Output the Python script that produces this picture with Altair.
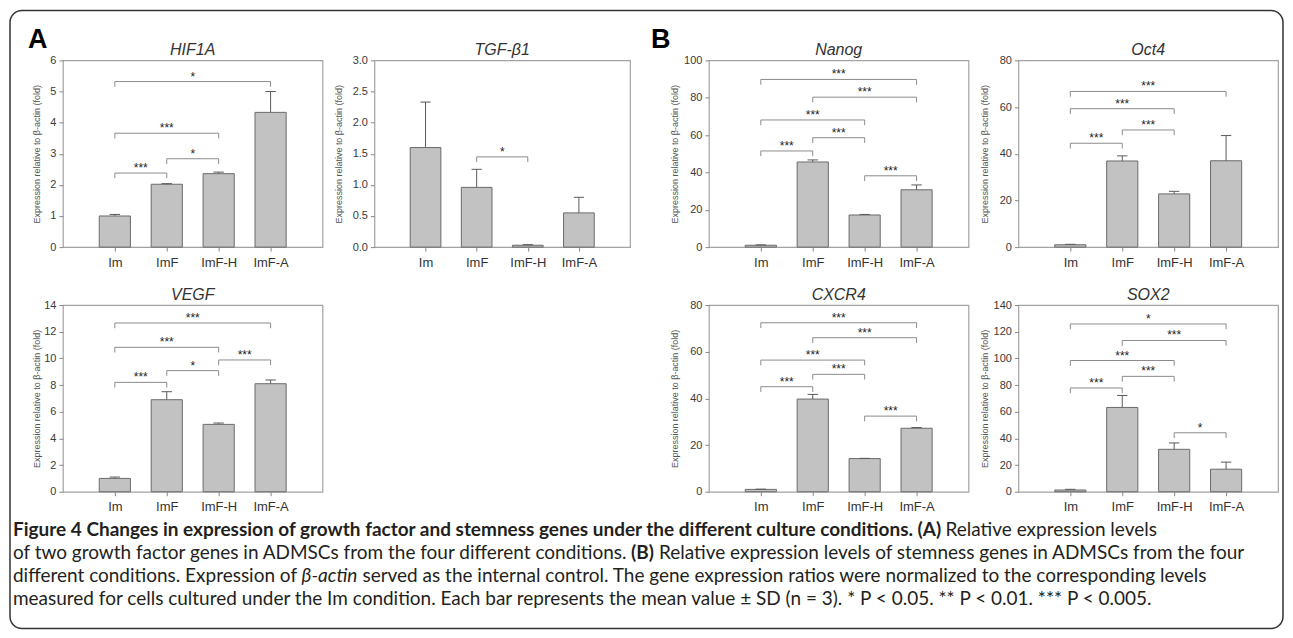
import altair as alt
import pandas as pd

FONT = "Liberation Sans"
CAP_FONT = "Lato"

conditions = ["Im", "ImF", "ImF-H", "ImF-A"]
positions = [1, 2, 3, 4]

# ---- Panel A ----
hif1a_mean = [1.0, 2.02, 2.36, 4.33]
hif1a_sd = [0.05, 0.02, 0.05, 0.67]
hif1a_ticks = [0, 1, 2, 3, 4, 5, 6]
hif1a_brackets = [("Im", "ImF-A", 5.32, "*"), ("Im", "ImF-H", 3.66, "***"),
                  ("ImF", "ImF-H", 2.84, "*"), ("Im", "ImF", 2.38, "***")]

tgf_mean = [1.6, 0.96, 0.03, 0.55]
tgf_sd = [0.73, 0.29, 0.01, 0.25]
tgf_ticks = [0, 0.5, 1.0, 1.5, 2.0, 2.5, 3.0]
tgf_brackets = [("ImF", "ImF-H", 1.45, "*")]

vegf_mean = [1.0, 6.9, 5.05, 8.1]
vegf_sd = [0.1, 0.6, 0.1, 0.28]
vegf_ticks = [0, 2, 4, 6, 8, 10, 12, 14]
vegf_brackets = [("Im", "ImF-A", 12.65, "***"), ("Im", "ImF-H", 10.83, "***"),
                 ("ImF-H", "ImF-A", 9.88, "***"), ("ImF", "ImF-H", 9.08, "*"),
                 ("Im", "ImF", 8.2, "***")]

# ---- Panel B ----
nanog_mean = [1.0, 45.6, 17.2, 30.7]
nanog_sd = [0.2, 1.1, 0.3, 2.6]
nanog_ticks = [0, 20, 40, 60, 80, 100]
nanog_brackets = [("Im", "ImF-A", 89.8, "***"), ("ImF", "ImF-A", 80.3, "***"),
                  ("Im", "ImF-H", 68.1, "***"), ("ImF", "ImF-H", 58.6, "***"),
                  ("Im", "ImF", 51.5, "***"), ("ImF-H", "ImF-A", 38.2, "***")]

oct4_mean = [1.0, 36.9, 22.8, 37.0]
oct4_sd = [0.2, 2.2, 1.1, 10.8]
oct4_ticks = [0, 20, 40, 60, 80]
oct4_brackets = [("Im", "ImF-A", 66.7, "***"), ("Im", "ImF-H", 59.3, "***"),
                 ("ImF", "ImF-H", 50.2, "***"), ("Im", "ImF", 44.5, "***")]

cxcr4_mean = [1.0, 39.7, 14.2, 27.2]
cxcr4_sd = [0.1, 2.0, 0.1, 0.3]
cxcr4_ticks = [0, 20, 40, 60, 80]
cxcr4_brackets = [("Im", "ImF-A", 72.4, "***"), ("ImF", "ImF-A", 66.0, "***"),
                  ("Im", "ImF-H", 56.4, "***"), ("ImF", "ImF-H", 50.3, "***"),
                  ("Im", "ImF", 45.0, "***"), ("ImF-H", "ImF-A", 32.4, "***")]

sox2_mean = [1.3, 63.2, 31.8, 16.9]
sox2_sd = [0.5, 9.0, 4.8, 5.3]
sox2_ticks = [0, 20, 40, 60, 80, 100, 120, 140]
sox2_brackets = [("Im", "ImF-A", 125.8, "*"), ("ImF", "ImF-A", 113.4, "***"),
                 ("Im", "ImF-H", 98.4, "***"), ("ImF", "ImF-H", 86.5, "***"),
                 ("Im", "ImF", 77.8, "***"), ("ImF-H", "ImF-A", 44.2, "*")]

y_title = "Expression relative to β-actin (fold)"

# caption segments: (line y, x, style, text)  -- page pixel positions
caption_segments = [
    (529, 12, "bold", "Figure 4 Changes in expression of growth factor and stemness genes under the different culture conditions. (A)"),
    (529, 946, "normal", "Relative expression levels"),
    (552, 12, "normal", "of two growth factor genes in ADMSCs from the four different conditions."),
    (552, 631, "bold", "(B)"),
    (552, 659, "normal", "Relative expression levels of stemness genes in ADMSCs from the four"),
    (575, 12, "normal", "different conditions. Expression of"),
    (575, 301, "italic", "β-actin"),
    (575, 362, "normal", "served as the internal control. The gene expression ratios were normalized to the corresponding levels"),
    (598, 12, "normal", "measured for cells cultured under the Im condition. Each bar represents the mean value ± SD (n = 3). * P < 0.05. ** P < 0.01. *** P < 0.005."),
]

PLOT_H = 187
ORIGIN = (62, 59)  # page position of the first plot area (caption coordinates are relative to it)


def make_panel(title, means, sds, yticks, fmt, brackets, width, ext, tpad,
               cell, letter=None, letter_x=0):
    L, R, T, B = cell
    ymax = yticks[-1]
    pos_of = dict(zip(conditions, positions))
    bars = pd.DataFrame({"cond": conditions, "pos": positions, "mean": means, "sd": sds})
    bars["lo"] = bars["pos"] - 0.3
    bars["hi"] = bars["pos"] + 0.3
    bars["top"] = bars["mean"] + bars["sd"]
    bars["clo"] = bars["pos"] - 0.1
    bars["chi"] = bars["pos"] + 0.1

    drop = ymax * 0.028
    br = pd.DataFrame(brackets, columns=["a", "b", "level", "label"])
    br["xa"] = br["a"].map(pos_of)
    br["xb"] = br["b"].map(pos_of)
    br["mid"] = (br["xa"] + br["xb"]) / 2
    br["low"] = br["level"] - drop
    ends = pd.concat([
        br[["xa", "level", "low"]].rename(columns={"xa": "x"}),
        br[["xb", "level", "low"]].rename(columns={"xb": "x"}),
    ], ignore_index=True)

    expr = "[''," + ",".join("'%s'" % c for c in conditions) + "][datum.value]"
    xs = alt.Scale(domain=[0, 5], nice=False, zero=False)
    ys = alt.Scale(domain=[0, ymax], nice=False, zero=True)
    xaxis = alt.Axis(values=positions, labelExpr=expr, title=None, grid=False, domain=False,
                     tickSize=4, tickColor="#888888", labelFontSize=13, labelColor="#333333",
                     labelPadding=5, labelFont=FONT)
    yaxis = alt.Axis(values=yticks, format=fmt, title=y_title, grid=False, domain=False,
                     tickSize=4, tickColor="#888888", labelFontSize=11, labelColor="#3a3a3a",
                     labelPadding=3, labelFont=FONT, titleFont=FONT, titleFontSize=9,
                     titleFontWeight="normal", titleColor="#555555", titlePadding=tpad,
                     minExtent=ext, maxExtent=ext)

    def X(f):
        return alt.X(f, scale=xs, axis=xaxis)

    def Y(f):
        return alt.Y(f, scale=ys, axis=yaxis)

    one = pd.DataFrame({"k": [0]})
    layers = [
        # invisible cell box fixing the layout bounds of this panel
        alt.Chart(one).mark_rect(fill="white", opacity=0).encode(
            x=alt.value(-L), x2=alt.value(width + R), y=alt.value(-T), y2=alt.value(PLOT_H + B)),
        alt.Chart(bars).mark_bar(fill="#c2c2c2", stroke="#6a6a6a", strokeWidth=1).encode(
            x=X("lo:Q"), x2="hi:Q", y=Y("mean:Q"), y2=alt.datum(0)),
        alt.Chart(bars).mark_rule(color="#5a5a5a", strokeWidth=1).encode(
            x=X("pos:Q"), y=Y("mean:Q"), y2="top:Q"),
        alt.Chart(bars).mark_rule(color="#5a5a5a", strokeWidth=1).encode(
            x=X("clo:Q"), x2="chi:Q", y=Y("top:Q")),
        alt.Chart(br).mark_rule(color="#8c8c8c", strokeWidth=1).encode(
            x=X("xa:Q"), x2="xb:Q", y=Y("level:Q")),
        alt.Chart(ends).mark_rule(color="#8c8c8c", strokeWidth=1).encode(
            x=X("x:Q"), y=Y("level:Q"), y2="low:Q"),
        alt.Chart(br).mark_text(fontSize=12, color="#222222", baseline="alphabetic", dy=-1,
                                font=FONT).encode(x=X("mid:Q"), y=Y("level:Q"), text="label:N"),
        # panel title
        alt.Chart(pd.DataFrame({"t": [title]})).mark_text(
            fontSize=16, fontStyle="italic", font=FONT, color="#333333", align="center",
            baseline="alphabetic").encode(
            x=alt.value(width / 2), y=alt.value(-5), text="t:N"),
    ]
    if letter:
        layers.append(
            alt.Chart(pd.DataFrame({"t": [letter]})).mark_text(
                fontSize=27, fontWeight="bold", font=FONT, align="left",
                baseline="alphabetic", color="#000000").encode(
                x=alt.value(letter_x), y=alt.value(-12), text="t:N"))
    return alt.layer(*layers).properties(width=width, height=PLOT_H)


ROW1 = (51, 28)
ROW2 = (28, 25)
hif = make_panel("HIF1A", hif1a_mean, hif1a_sd, hif1a_ticks, "d", hif1a_brackets, 260, 16, 5,
                 (54, 0) + ROW1, letter="A", letter_x=-35)
vegf = make_panel("VEGF", vegf_mean, vegf_sd, vegf_ticks, "d", vegf_brackets, 260, 16, 5,
                  (54, 0) + ROW2)
tgf = make_panel("TGF-β1", tgf_mean, tgf_sd, tgf_ticks, ".1f", tgf_brackets, 256, 25, 6,
                 (50, 0) + ROW1)
nanog = make_panel("Nanog", nanog_mean, nanog_sd, nanog_ticks, "d", nanog_brackets, 260, 23, 6,
                   (77, 0) + ROW1, letter="B", letter_x=-58)
cxcr4 = make_panel("CXCR4", cxcr4_mean, cxcr4_sd, cxcr4_ticks, "d", cxcr4_brackets, 260, 23, 6,
                   (77, 0) + ROW2)
oct4 = make_panel("Oct4", oct4_mean, oct4_sd, oct4_ticks, "d", oct4_brackets, 260, 23, 6,
                  (48, 0) + ROW1)
sox2 = make_panel("SOX2", sox2_mean, sox2_sd, sox2_ticks, "d", sox2_brackets, 260, 23, 6,
                  (48, 0) + ROW2)

col1 = alt.vconcat(hif, vegf, spacing=0)
col3 = alt.vconcat(nanog, cxcr4, spacing=0)
col4 = alt.vconcat(oct4, sox2, spacing=0)
top = alt.hconcat(col1, tgf, col3, col4, spacing=0)

cap_df = pd.DataFrame(caption_segments, columns=["yabs", "xabs", "style", "text"])
cap_df["x"] = cap_df["xabs"] - ORIGIN[0]
cap_df["y"] = cap_df["yabs"] - ORIGIN[1]
cap_layers = []
for style in ["bold", "normal", "italic"]:
    sub = cap_df[cap_df["style"] == style]
    kw = dict(font=CAP_FONT, fontSize=19, align="left", baseline="middle", color="#231f20")
    if style == "bold":
        kw["fontWeight"] = "bold"
    if style == "italic":
        kw["fontStyle"] = "italic"
    cap_layers.append(alt.Chart(sub).mark_text(**kw).encode(
        x=alt.X("x:Q", scale=None), y=alt.Y("y:Q", scale=None), text="text:N"))
border = alt.Chart(pd.DataFrame({"k": [0]})).mark_rect(
    fill="transparent", stroke="#333333", strokeWidth=1.5, cornerRadius=12).encode(
    x=alt.value(9 - ORIGIN[0]), x2=alt.value(1284 - ORIGIN[0]),
    y=alt.value(9 - ORIGIN[1]), y2=alt.value(628 - ORIGIN[1]))
caption = alt.layer(border, *cap_layers).properties(
    width=1200, height=100, view=alt.ViewBackground(stroke="transparent"))

chart = alt.vconcat(top, caption, spacing=0, bounds="flush").properties(
    padding={"left": 0, "top": 0, "right": 0, "bottom": 0}
).configure(font=FONT).configure_view(stroke="#a3a3a3", strokeWidth=1.2)

chart.save("out.html", embed_options={"renderer": "svg", "actions": False})
